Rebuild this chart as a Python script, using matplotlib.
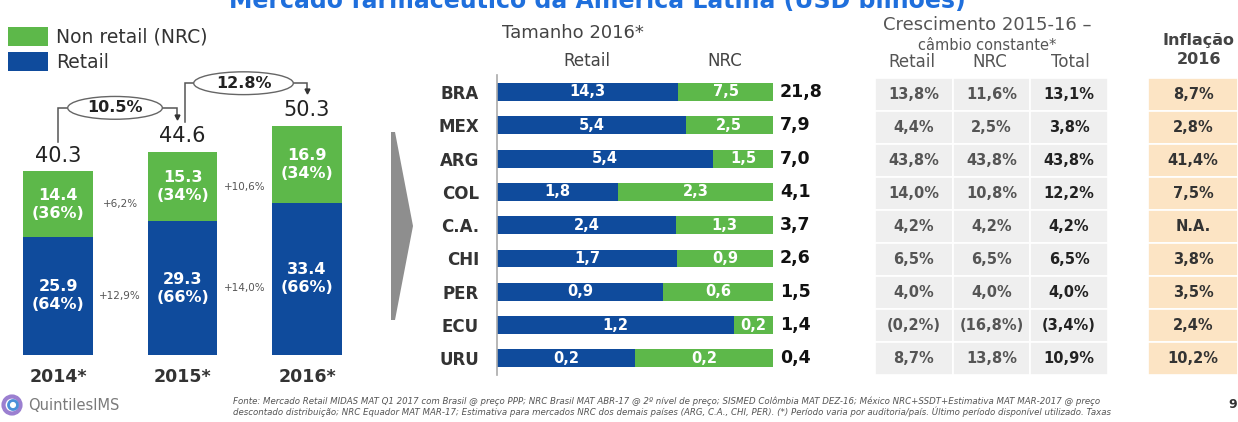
import matplotlib
matplotlib.use("Agg")
import matplotlib.pyplot as plt
from matplotlib.patches import Rectangle, Polygon, Circle, Ellipse

plt.rcParams['font.family'] = ['DejaVu Sans']

# ---------------- data ----------------
years = ["2014*", "2015*", "2016*"]
retail_total = [25.9, 29.3, 33.4]
nrc_total = [14.4, 15.3, 16.9]
market_total = [40.3, 44.6, 50.3]
retail_growth = ["+12,9%", "+14,0%"]
nrc_growth = ["+6,2%", "+10,6%"]
total_growth = ["10.5%", "12.8%"]

countries = ["BRA", "MEX", "ARG", "COL", "C.A.", "CHI", "PER", "ECU", "URU"]
retail_2016 = [14.3, 5.4, 5.4, 1.8, 2.4, 1.7, 0.9, 1.2, 0.2]
nrc_2016 = [7.5, 2.5, 1.5, 2.3, 1.3, 0.9, 0.6, 0.2, 0.2]
total_2016 = [21.8, 7.9, 7.0, 4.1, 3.7, 2.6, 1.5, 1.4, 0.4]

growth_retail = ["13,8%", "4,4%", "43,8%", "14,0%", "4,2%", "6,5%", "4,0%", "(0,2%)", "8,7%"]
growth_nrc = ["11,6%", "2,5%", "43,8%", "10,8%", "4,2%", "6,5%", "4,0%", "(16,8%)", "13,8%"]
growth_total = ["13,1%", "3,8%", "43,8%", "12,2%", "4,2%", "6,5%", "4,0%", "(3,4%)", "10,9%"]
inflation_2016 = ["8,7%", "2,8%", "41,4%", "7,5%", "N.A.", "3,8%", "3,5%", "2,4%", "10,2%"]

BLUE = "#0f4b9c"
GREEN = "#5db84a"
DARK = "#333333"

W, H = 1238, 422
fig = plt.figure(figsize=(W / 100, H / 100), dpi=100)
fig.patch.set_facecolor("white")


def fx(x):
    return x / W


def fy(y):
    return 1 - y / H


def ax_px(l, t, r, b, **kw):
    return fig.add_axes([l / W, 1 - b / H, (r - l) / W, (b - t) / H], **kw)


# ---------------- title (partly cut at top, as in the slide) ----------------
fig.text(fx(597), fy(8), "Mercado farmacêutico da América Latina (USD bilhões)",
         ha="center", va="baseline", fontsize=17, fontweight="bold", color="#1f6fdc")

# ---------------- left: stacked bars ----------------
ax = ax_px(0, 355 - 62 * 4.56, 372, 355)
x = list(range(len(years)))
bw = 0.562
b1 = ax.bar(x, retail_total, bw, color=BLUE, label="Retail")
b2 = ax.bar(x, nrc_total, bw, bottom=retail_total, color=GREEN, label="Non retail (NRC)")
ax.set_xlim(-58 / 124.5, (372 - 58) / 124.5)
ax.set_ylim(0, 62)
for s in ax.spines.values():
    s.set_visible(False)
ax.set_yticks([])
ax.set_xticks(x)
ax.set_xticklabels(years, fontsize=12.5, fontweight="bold", color=DARK)
ax.tick_params(axis="x", length=0, pad=9)

for i in x:
    r, n, t = retail_total[i], nrc_total[i], market_total[i]
    ax.text(i, r / 2, f"{r:.1f}\n({round(100 * r / t)}%)", ha="center", va="center",
            color="white", fontsize=11.5, fontweight="bold", linespacing=1.25)
    ax.text(i, r + n / 2, f"{n:.1f}\n({round(100 * n / t)}%)", ha="center", va="center",
            color="white", fontsize=11.5, fontweight="bold", linespacing=1.25)
    ax.annotate(f"{t:.1f}", (i, t), xytext=(0, 4), textcoords="offset points",
                ha="center", va="bottom", fontsize=15, color="#222222")

for i in range(len(years) - 1):
    ax.text(i + 0.5, retail_total[i] / 2, retail_growth[i], ha="center", va="center",
            fontsize=7.5, color="#555555")
    ax.text(i + 0.5, retail_total[i] + nrc_total[i] / 2, nrc_growth[i], ha="center",
            va="center", fontsize=7.5, color="#555555")

# growth brackets between totals
bracket_levels = [54.2, 59.6]
ellipse_w = [0.76, 0.8]
for i in range(len(years) - 1):
    y0 = market_total[i] + 6.4
    ylev = bracket_levels[i]
    xs = i + 0.02 * i
    xe = i + 1 - 0.044 if i == 0 else i + 1
    yend = market_total[i + 1] + 6.9
    ax.plot([xs, xs, xe, xe], [y0, ylev, ylev, yend + 0.8], color="#555555", lw=1.1,
            solid_joinstyle="miter", zorder=2)
    ax.plot([xe], [yend + 0.6], marker="v", markersize=3.5, color="#333333", zorder=2)
    cx = (xs + xe) / 2 - 0.02
    ax.add_patch(Ellipse((cx, ylev), ellipse_w[i], 5.0, facecolor="white",
                         edgecolor="#666666", lw=1.0, zorder=3, clip_on=False))
    ax.text(cx, ylev, total_growth[i], ha="center", va="center", fontsize=11.5,
            fontweight="bold", color="#222222", zorder=4)

leg = fig.legend(handles=[b2, b1], labels=["Non retail (NRC)", "Retail"],
                 loc="upper left", bbox_to_anchor=(fx(8), fy(27)), frameon=False,
                 fontsize=13.5, handlelength=2.13, handleheight=1.17,
                 labelspacing=0.27, handletextpad=0.45, borderpad=0, borderaxespad=0)
for t in leg.get_texts():
    t.set_color(DARK)

# ---------------- grey chevron ----------------
fig.patches.append(Polygon([(fx(391), fy(132)), (fx(395), fy(132)), (fx(413), fy(226)),
                            (fx(395), fy(320)), (fx(391), fy(320))], closed=True,
                           transform=fig.transFigure, facecolor="#8e8e8e",
                           edgecolor="none", figure=fig))

# ---------------- middle: country 100% bars ----------------
ax2 = ax_px(497, 92 - 16.65, 773, 358.4 + 16.65)
yc = list(range(len(countries)))
share_r = [r / (r + n) for r, n in zip(retail_2016, nrc_2016)]
share_n = [n / (r + n) for r, n in zip(retail_2016, nrc_2016)]
ax2.barh(yc, share_r, 0.54, color=BLUE)
ax2.barh(yc, share_n, 0.54, left=share_r, color=GREEN)
ax2.set_xlim(0, 1)
ax2.set_ylim(8.5, -0.5)
for k in ["top", "right", "bottom"]:
    ax2.spines[k].set_visible(False)
ax2.spines["left"].set_color("#aaaaaa")
ax2.spines["left"].set_linewidth(1.2)
ax2.set_xticks([])
ax2.set_yticks(yc)
ax2.set_yticklabels(countries, fontsize=12, fontweight="bold", color=DARK)
ax2.tick_params(axis="y", length=0, pad=13)
for i in yc:
    ax2.text(share_r[i] / 2, i, f"{retail_2016[i]:.1f}".replace(".", ","), ha="center",
             va="center", color="white", fontsize=10.5, fontweight="bold")
    ax2.text(share_r[i] + share_n[i] / 2, i, f"{nrc_2016[i]:.1f}".replace(".", ","),
             ha="center", va="center", color="white", fontsize=10.5, fontweight="bold")
    ax2.annotate(f"{total_2016[i]:.1f}".replace(".", ","), (1, i), xytext=(5, 0),
                 textcoords="offset points", ha="left", va="center", fontsize=12.5,
                 fontweight="bold", color="#111111")

fig.text(fx(573), fy(33), "Tamanho 2016*", ha="center", va="center", fontsize=13, color="#444444")
fig.text(fx(587), fy(61), "Retail", ha="center", va="center", fontsize=12, color="#444444")
fig.text(fx(725), fy(61), "NRC", ha="center", va="center", fontsize=12, color="#444444")

# ---------------- right: growth table ----------------
ax3 = ax_px(875, 78, 1108, 375)
ax3.set_xlim(0, 3)
ax3.set_ylim(9, 0)
ax3.axis("off")
cols = [growth_retail, growth_nrc, growth_total]
for c, col in enumerate(cols):
    for r, val in enumerate(col):
        ax3.add_patch(Rectangle((c, r), 1, 1, facecolor="#efefef", edgecolor="white", lw=1.2))
        ax3.text(c + 0.5, r + 0.5, val, ha="center", va="center", fontsize=10.5,
                 fontweight="bold", color="#222222" if c == 2 else "#555555")

ax4 = ax_px(1148, 78, 1238, 375)
ax4.set_xlim(0, 1)
ax4.set_ylim(9, 0)
ax4.axis("off")
for r, val in enumerate(inflation_2016):
    ax4.add_patch(Rectangle((0, r), 1, 1, facecolor="#fce4c4", edgecolor="white", lw=1.2))
    ax4.text(0.5, r + 0.5, val, ha="center", va="center", fontsize=10.5,
             fontweight="bold", color="#333333")

fig.text(fx(987), fy(25), "Crescimento 2015-16 –", ha="center", va="center", fontsize=13,
         color="#555555")
fig.text(fx(987), fy(45), "câmbio constante*", ha="center", va="center", fontsize=10.5,
         color="#555555")
for xc, lab in zip([912, 990, 1070], ["Retail", "NRC", "Total"]):
    fig.text(fx(xc), fy(62), lab, ha="center", va="center", fontsize=12, color="#555555")
fig.text(fx(1199), fy(40), "Inflação", ha="center", va="center", fontsize=11.5,
         fontweight="bold", color="#444444")
fig.text(fx(1199), fy(60), "2016", ha="center", va="center", fontsize=11.5,
         fontweight="bold", color="#444444")

# ---------------- footer ----------------
axl = ax_px(0, 394, 24, 416)
axl.set_xlim(-1.2, 1.2)
axl.set_ylim(-1.1, 1.1)
axl.set_aspect("equal")
axl.axis("off")
axl.add_patch(Circle((0, 0), 0.85, fill=False, ec="#9b7fd0", lw=3))
axl.add_patch(Circle((0.1, 0), 0.45, fill=False, ec="#4a8fd8", lw=2))
fig.text(fx(28), fy(405), "QuintilesIMS", ha="left", va="center", fontsize=10.5, color="#7a7a7a")

foot1 = ("Fonte: Mercado Retail MIDAS MAT Q1 2017 com Brasil @ preço PPP; NRC Brasil MAT ABR-17 @ 2º nível de preço; "
         "SISMED Colômbia MAT DEZ-16; México NRC+SSDT+Estimativa MAT MAR-2017 @ preço")
foot2 = ("descontado distribuição; NRC Equador MAT MAR-17; Estimativa para mercados NRC dos demais países (ARG, C.A., CHI, PER). "
         "(*) Período varia por auditoria/país. Último período disponível utilizado. Taxas")
fig.text(fx(233), fy(401), foot1, ha="left", va="center", fontsize=6.2, style="italic", color="#555555")
fig.text(fx(233), fy(412), foot2, ha="left", va="center", fontsize=6.2, style="italic", color="#555555")
fig.text(fx(1233), fy(404), "9", ha="center", va="center", fontsize=9, fontweight="bold", color="#333333")

fig.savefig("out.png", dpi=100, facecolor="white")
